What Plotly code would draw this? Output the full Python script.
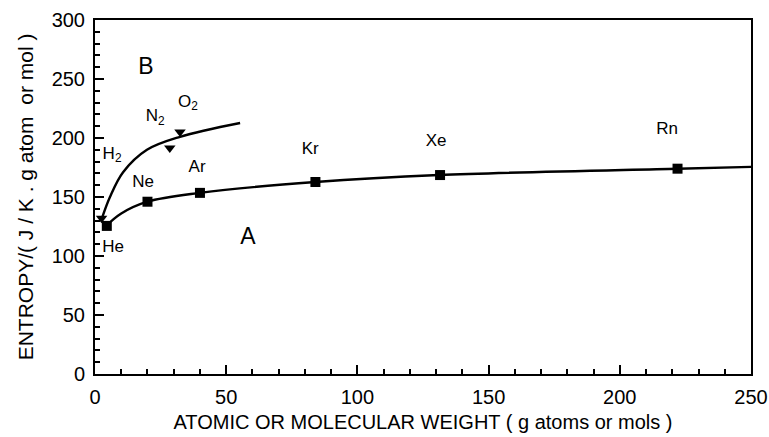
import plotly.graph_objects as go

# Noble gases (curve A)
noble_names = ["He", "Ne", "Ar", "Kr", "Xe", "Rn"]
noble_mw = [4.5, 20, 40, 84, 131.5, 222]
noble_s = [125.5, 146, 153.5, 162.7, 168.6, 174]

# Diatomic gases (curve B)
diat_names = ["H<sub>2</sub>", "N<sub>2</sub>", "O<sub>2</sub>"]
diat_mw = [2.5, 28.5, 32.4]
diat_s = [132, 191.5, 205]

# Fitted curves
curveA_x = [4, 10, 20, 40, 84, 131, 222, 250]
curveA_y = [125, 136, 146, 153.5, 162.7, 168.6, 174, 175.5]
curveB_x = [2.5, 5.7, 10.7, 19.8, 32.4, 55.3]
curveB_y = [131, 150, 171, 190, 201, 212.7]

# Label positions
label_text = ["He", "Ne", "Ar", "Kr", "Xe", "Rn", "H<sub>2</sub>", "N<sub>2</sub>", "O<sub>2</sub>"]
label_x = [6.9, 18.3, 38.9, 82, 130, 218, 6.5, 22.9, 35.4]
label_y = [107, 162, 175, 190, 197, 207, 186, 218, 230]

big_text = ["A", "B"]
big_x = [58.3, 19.4]
big_y = [115, 259]

FONT = "Liberation Sans, Arial, sans-serif"

fig = go.Figure()
fig.add_trace(go.Scatter(x=curveA_x, y=curveA_y, mode="lines",
                         line=dict(color="black", width=2.4, shape="spline", smoothing=1.0),
                         hoverinfo="skip", showlegend=False))
fig.add_trace(go.Scatter(x=curveB_x, y=curveB_y, mode="lines",
                         line=dict(color="black", width=2.4, shape="spline", smoothing=1.0),
                         hoverinfo="skip", showlegend=False))
fig.add_trace(go.Scatter(x=noble_mw, y=noble_s, mode="markers",
                         marker=dict(symbol="square", size=10, color="black"),
                         cliponaxis=False, showlegend=False))
fig.add_trace(go.Scatter(x=diat_mw, y=diat_s, mode="markers",
                         marker=dict(symbol="triangle-down", size=10, color="black"),
                         cliponaxis=False, showlegend=False))
fig.add_trace(go.Scatter(x=label_x, y=label_y, mode="text", text=label_text,
                         textfont=dict(family=FONT, size=17, color="black"),
                         cliponaxis=False, showlegend=False))
fig.add_trace(go.Scatter(x=big_x, y=big_y, mode="text", text=big_text,
                         textfont=dict(family=FONT, size=23, color="black"),
                         cliponaxis=False, showlegend=False))

axis_common = dict(showline=True, linecolor="black", linewidth=2, mirror=True,
                   ticks="inside", ticklen=9, tickwidth=2, tickcolor="black",
                   showgrid=False, zeroline=False, automargin=False,
                   ticklabelstandoff=4,
                   tickfont=dict(family=FONT, size=20, color="black"),
                   minor=dict(ticks="inside", ticklen=5, tickwidth=1.5, tickcolor="black",
                              dtick=10, showgrid=False))

fig.update_xaxes(range=[0, 250], dtick=50, tick0=0,
                 title=dict(text="ATOMIC OR MOLECULAR WEIGHT ( g atoms or mols )",
                            font=dict(family=FONT, size=20, color="black"), standoff=8),
                 **axis_common)
fig.update_yaxes(range=[0, 300], dtick=50, tick0=0,
                 title=dict(text="ENTROPY/( J / K . g atom  or mol )",
                            font=dict(family=FONT, size=21, color="black"), standoff=12),
                 **axis_common)

fig.update_layout(width=769, height=437, margin=dict(l=95, r=18, t=20, b=63),
                  font=dict(family=FONT, size=16, color="black"),
                  plot_bgcolor="white", paper_bgcolor="white")
fig.write_html("out.html", config={"displayModeBar": False},
               post_script="document.body.style.margin='0';document.body.style.overflow='hidden';")
